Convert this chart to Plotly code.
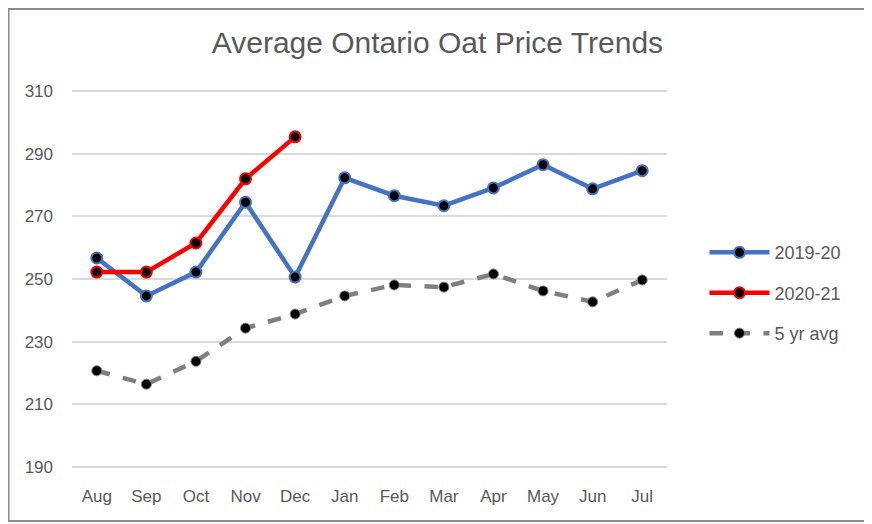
import plotly.graph_objects as go

months = ['Aug', 'Sep', 'Oct', 'Nov', 'Dec', 'Jan', 'Feb', 'Mar', 'Apr', 'May', 'Jun', 'Jul']
y2019 = [256.7, 244.6, 252.2, 274.5, 250.6, 282.3, 276.6, 273.4, 279.1, 286.5, 278.8, 284.6]
y2020 = [252.2, 252.2, 261.5, 282.0, 295.4]
avg5 = [220.7, 216.4, 223.7, 234.3, 238.8, 244.6, 248.1, 247.4, 251.6, 246.2, 242.7, 249.7]

font = "Liberation Sans, Arial, sans-serif"

fig = go.Figure()
fig.add_trace(go.Scatter(x=months, y=y2019, name='2019-20', mode='lines+markers', legendgroup='a',
                         line=dict(color='#4472C4', width=4.5),
                         marker=dict(color='black', size=11, line=dict(color='#4472C4', width=2))))
fig.add_trace(go.Scatter(x=months[:len(y2020)], y=y2020, name='2020-21', mode='lines+markers', legendgroup='b',
                         line=dict(color='#FF0000', width=4.5),
                         marker=dict(color='black', size=11, line=dict(color='#FF0000', width=2))))
fig.add_trace(go.Scatter(x=months, y=avg5, name='5 yr avg', mode='lines+markers', legendgroup='c',
                         line=dict(color='#7F7F7F', width=4.5, dash='dash'),
                         marker=dict(color='black', size=10, line=dict(color='#7F7F7F', width=1))))

# page body adds an 8px offset, so the figure is 8px smaller than the window
fig.update_layout(
    width=864, height=516,
    margin=dict(l=64, r=205, t=80, b=54),
    paper_bgcolor='white', plot_bgcolor='white',
    font=dict(family=font, color='#595959', size=17),
    title=dict(text='Average Ontario Oat Price Trends', x=0.497, xanchor='center',
               y=0.934, yanchor='middle', font=dict(size=30, color='#595959')),
    xaxis=dict(range=[-0.5, 11.5], showgrid=False, showline=False, ticks='',
               tickfont=dict(size=17), ticklabelstandoff=14),
    yaxis=dict(range=[189, 311], tick0=190, dtick=20, showgrid=True, gridcolor='#D9D9D9', gridwidth=1.5,
               zeroline=False, showline=False, ticks='', tickfont=dict(size=17), ticklabelstandoff=18),
    legend=dict(x=1.063, y=0.463, xanchor='left', yanchor='middle', tracegroupgap=14,
                font=dict(size=18, color='#595959'), itemwidth=60),
    showlegend=True,
)
fig.add_shape(type='rect', xref='paper', yref='paper',
              x0=-0.1067, x1=1.3378, y0=-0.1335, y1=1.2068,
              line=dict(color='#8C8C8C', width=2))

fig.write_html("out.html")
